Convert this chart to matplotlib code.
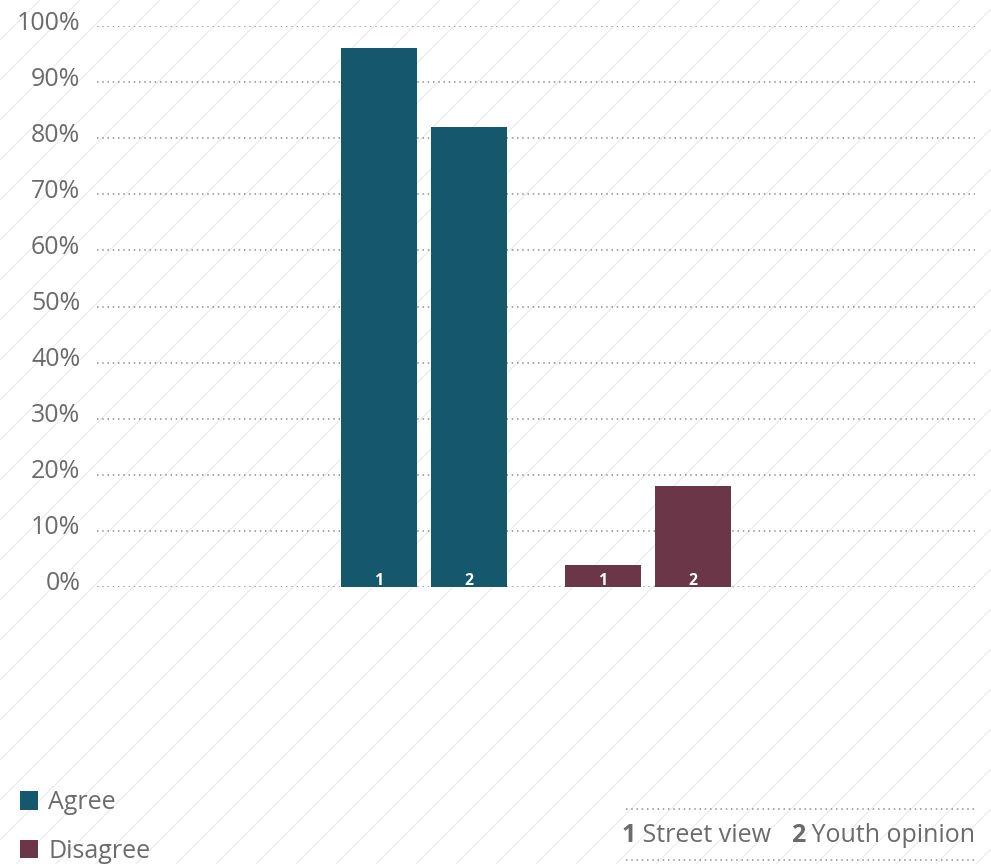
import numpy as np
import matplotlib
matplotlib.use("Agg")
import matplotlib.pyplot as plt
import matplotlib.transforms as mtransforms
from matplotlib.patches import Rectangle, Patch
from matplotlib.lines import Line2D
from matplotlib.offsetbox import TextArea, HPacker, AnchoredOffsetbox

categories = ["Agree", "Disagree"]
series_names = ["Street view", "Youth opinion"]
series_ids = ["1", "2"]
street_view = [96, 4]
youth_opinion = [82, 18]
colors = ["#15586d", "#6b3748"]
yticks = [0, 10, 20, 30, 40, 50, 60, 70, 80, 90, 100]

plt.rcParams["font.family"] = ["Open Sans", "DejaVu Sans"]
plt.rcParams["hatch.linewidth"] = 0.8
plt.rcParams["hatch.color"] = "#ececec"

DPI = 120
fig = plt.figure(figsize=(991 / DPI, 864 / DPI), dpi=DPI)

# diagonal stripe background over whole figure
bg = Rectangle((0, 0), 1, 1, transform=fig.transFigure, facecolor="white",
               edgecolor="#ececec", hatch="/", linewidth=0, zorder=-10)
fig.patches.append(bg)

ax = fig.add_axes([97 / 991, (864 - 587) / 864, (975 - 97) / 991, (587 - 26) / 864])
ax.patch.set_alpha(0)

x = np.arange(len(categories))
w = 0.339
off = 0.2
gray = "#6b6b6d"

for i, cat in enumerate(categories):
    vals = [street_view[i], youth_opinion[i]]
    for j, v in enumerate(vals):
        xpos = x[i] + (j - 0.5) * 2 * off
        ax.bar(xpos, v, width=w, color=colors[i], zorder=3)
        ax.text(xpos, -0.35, series_ids[j], color="white", fontsize=9.5,
                fontweight="bold", ha="center", va="bottom", zorder=4,
                clip_on=True)

ax.set_xlim(-1.46, 2.46)
ax.set_ylim(0, 100)
ax.set_yticks(yticks)
ax.set_yticklabels([f"{t}%" for t in yticks])
ax.set_xticks([])
ax.tick_params(axis="y", length=0, pad=10, labelsize=15, labelcolor=gray)
shift = mtransforms.ScaledTranslation(0, 6 / DPI, fig.dpi_scale_trans)
for lab in ax.get_yticklabels():
    lab.set_transform(lab.get_transform() + shift)
for s in ax.spines.values():
    s.set_visible(False)
ax.grid(axis="y", color="#8a8a8a", linestyle=(0, (1, 2.5)), linewidth=0.9, zorder=1)

# legend
handles = [Patch(facecolor=c, edgecolor="none") for c in colors]
leg = fig.legend(handles, categories, loc="lower left",
                 bbox_to_anchor=(-0.003, -0.026), frameon=False, fontsize=15,
                 handlelength=0.75, handleheight=0.75, handletextpad=0.4,
                 labelspacing=0.95, labelcolor=gray)

# series key bottom right
parts = []
for j, name in enumerate(series_names):
    parts.append(TextArea(series_ids[j], textprops=dict(color=gray, fontsize=15, fontweight="bold")))
    suffix = " " + name + ("   " if j < len(series_names) - 1 else "")
    parts.append(TextArea(suffix, textprops=dict(color=gray, fontsize=15)))
box = HPacker(children=parts, align="baseline", pad=0, sep=0)
anch = AnchoredOffsetbox(loc="center right", child=box, frameon=False, pad=0,
                         bbox_to_anchor=(975 / 991, 1 - 836 / 864),
                         bbox_transform=fig.transFigure, borderpad=0)
fig.add_artist(anch)
for yy in [809, 860]:
    fig.add_artist(Line2D([626 / 991, 975 / 991], [1 - yy / 864] * 2,
                          transform=fig.transFigure, color="#8a8a8a",
                          linestyle=(0, (1, 2.5)), linewidth=0.9))

fig.savefig("out.png", dpi=DPI)
